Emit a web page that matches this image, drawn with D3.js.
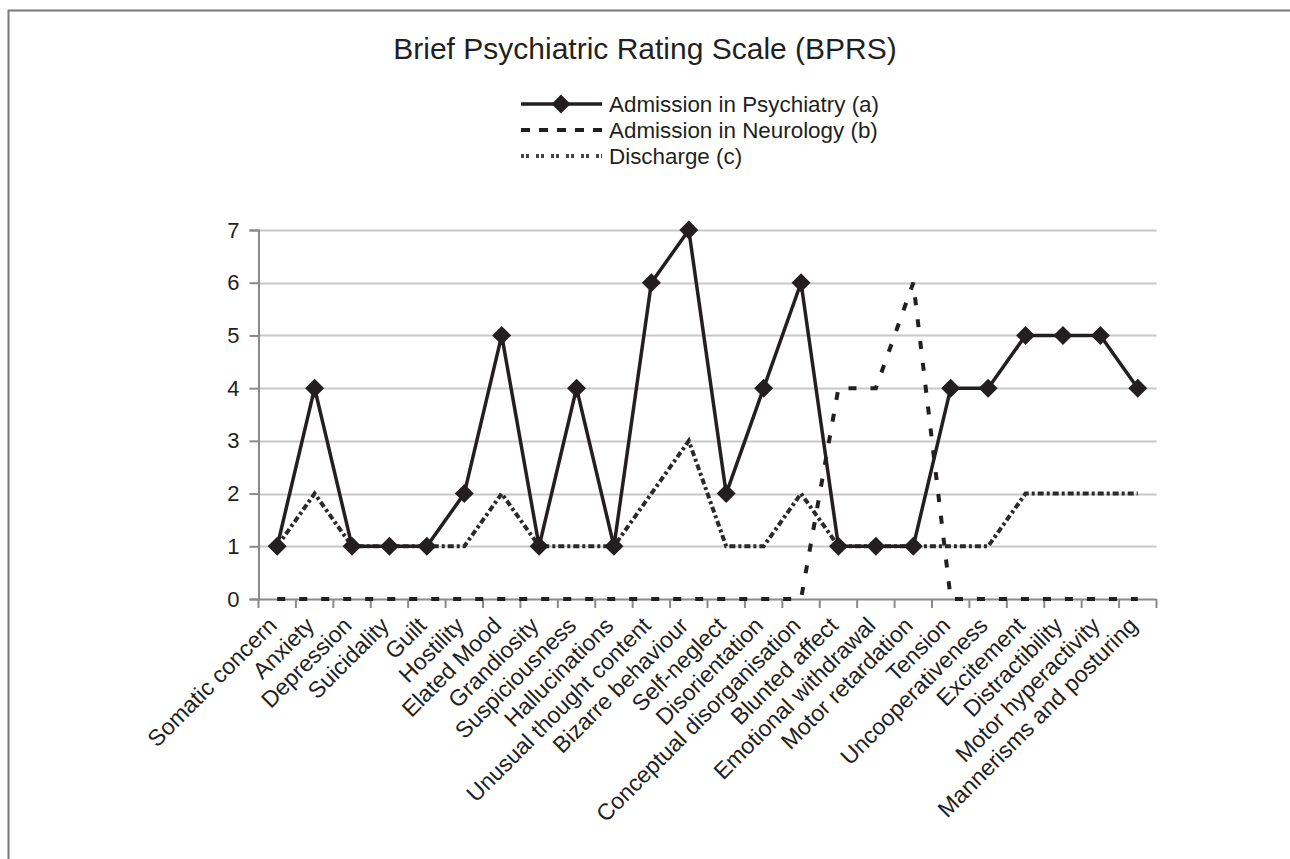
<!DOCTYPE html>
<html>
<head>
<meta charset="utf-8">
<script src="https://cdn.jsdelivr.net/npm/d3@7"></script>
<style>
  body { margin: 0; background: #fff; }
  text { font-family: "Liberation Sans", Arial, sans-serif; fill: #231f20; }
</style>
</head>
<body>
<svg id="chart" width="1290" height="859"></svg>
<script>
// BPRS items
var items = ["Somatic concern", "Anxiety", "Depression", "Suicidality", "Guilt", "Hostility",
  "Elated Mood", "Grandiosity", "Suspiciousness", "Hallucinations", "Unusual thought content",
  "Bizarre behaviour", "Self-neglect", "Disorientation", "Conceptual disorganisation",
  "Blunted affect", "Emotional withdrawal", "Motor retardation", "Tension", "Uncooperativeness",
  "Excitement", "Distractibility", "Motor hyperactivity", "Mannerisms and posturing"];

var psychiatry = [1, 4, 1, 1, 1, 2, 5, 1, 4, 1, 6, 7, 2, 4, 6, 1, 1, 1, 4, 4, 5, 5, 5, 4];
var neurology  = [0, 0, 0, 0, 0, 0, 0, 0, 0, 0, 0, 0, 0, 0, 0, 4, 4, 6, 0, 0, 0, 0, 0, 0];
var discharge  = [1, 2, 1, 1, 1, 1, 2, 1, 1, 1, 2, 3, 1, 1, 2, 1, 1, 1, 1, 1, 2, 2, 2, 2];

var yTicks = [0, 1, 2, 3, 4, 5, 6, 7];
var legendNames = ["Admission in Psychiatry (a)", "Admission in Neurology (b)", "Discharge (c)"];

var svg = d3.select("#chart");

// outer frame (runs off the right and bottom edges)
svg.append("rect").attr("x", 8.5).attr("y", 10.5).attr("width", 1300).attr("height", 900)
  .attr("fill", "none").attr("stroke", "#777").attr("stroke-width", 2);

var plotL = 258.5, plotR = 1156.5, plotT = 230, plotB = 599;

var x = d3.scaleBand().domain(items).range([plotL, plotR]);
var y = d3.scaleLinear().domain([0, 7]).range([plotB, plotT]);

// gridlines
svg.append("g").selectAll("line").data(yTicks.filter(function(d) { return d > 0; })).join("line")
  .attr("x1", plotL).attr("x2", plotR)
  .attr("y1", function(d) { return Math.round(y(d)) + 0.5; })
  .attr("y2", function(d) { return Math.round(y(d)) + 0.5; })
  .attr("stroke", "#c8c8c8").attr("stroke-width", 2);

// y axis
var yAxis = svg.append("g").attr("transform", "translate(" + plotL + ",0)")
  .call(d3.axisLeft(y).tickValues(yTicks).tickSize(9).tickPadding(10).tickFormat(d3.format("d")));
yAxis.select(".domain").attr("stroke", "#8a8a8a").attr("stroke-width", 2);
yAxis.selectAll(".tick line").attr("stroke", "#8a8a8a").attr("stroke-width", 2);
yAxis.selectAll("text").attr("font-size", 22).attr("font-family", "Liberation Sans, Arial, sans-serif").attr("fill", "#231f20");

// x axis: ticks on band boundaries
var xg = svg.append("g");
xg.append("line").attr("x1", plotL).attr("x2", plotR).attr("y1", plotB + 0.5).attr("y2", plotB + 0.5)
  .attr("stroke", "#8a8a8a").attr("stroke-width", 2);
xg.selectAll("line.tk").data(d3.range(items.length + 1)).join("line").attr("class", "tk")
  .attr("x1", function(i) { return plotL + i * x.step(); })
  .attr("x2", function(i) { return plotL + i * x.step(); })
  .attr("y1", plotB).attr("y2", plotB + 9)
  .attr("stroke", "#8a8a8a").attr("stroke-width", 2);
xg.selectAll("text").data(items).join("text")
  .attr("transform", function(d) {
    return "translate(" + (x(d) + x.bandwidth() / 2 + 1) + "," + (plotB + 28) + ") rotate(-45)";
  })
  .attr("text-anchor", "end").attr("font-size", 23)
  .text(function(d) { return d; });

var line = d3.line()
  .x(function(d, i) { return x(items[i]) + x.bandwidth() / 2; })
  .y(function(d) { return y(d); });

// neurology (dashed)
svg.append("path").datum(neurology).attr("d", line).attr("fill", "none")
  .attr("stroke", "#231f20").attr("stroke-width", 4).attr("stroke-dasharray", "8,14");

// discharge (dotted)
svg.append("path").datum(discharge).attr("d", line).attr("fill", "none")
  .attr("stroke", "#2a2a2a").attr("stroke-width", 4).attr("stroke-dasharray", "6,3,3,3");

// psychiatry (solid + diamonds)
svg.append("path").datum(psychiatry).attr("d", line).attr("fill", "none")
  .attr("stroke", "#231f20").attr("stroke-width", 3.5);
var diamond = d3.symbol().type(d3.symbolSquare).size(180);
svg.append("g").selectAll("path").data(psychiatry).join("path")
  .attr("d", diamond)
  .attr("transform", function(d, i) {
    return "translate(" + (x(items[i]) + x.bandwidth() / 2) + "," + y(d) + ") rotate(45)";
  })
  .attr("fill", "#231f20");

// title
svg.append("text").attr("x", 645).attr("y", 59).attr("text-anchor", "middle")
  .attr("font-size", 30).text("Brief Psychiatric Rating Scale (BPRS)");

// legend
var lg = svg.append("g");
var rows = [104, 130, 156];
var styles = [
  { dash: null, w: 3.5, c: "#231f20" },
  { dash: "9,9", w: 4, c: "#231f20" },
  { dash: "3,2,3,7", w: 4, c: "#444" }
];
rows.forEach(function(ry, k) {
  lg.append("line").attr("x1", 521).attr("x2", 602).attr("y1", ry).attr("y2", ry)
    .attr("stroke", styles[k].c).attr("stroke-width", styles[k].w)
    .attr("stroke-dasharray", styles[k].dash);
  lg.append("text").attr("x", 609).attr("y", ry + 8).attr("font-size", 22.4).text(legendNames[k]);
});
lg.append("path").attr("d", diamond)
  .attr("transform", "translate(561," + rows[0] + ") rotate(45)").attr("fill", "#231f20");
</script>
</body>
</html>
